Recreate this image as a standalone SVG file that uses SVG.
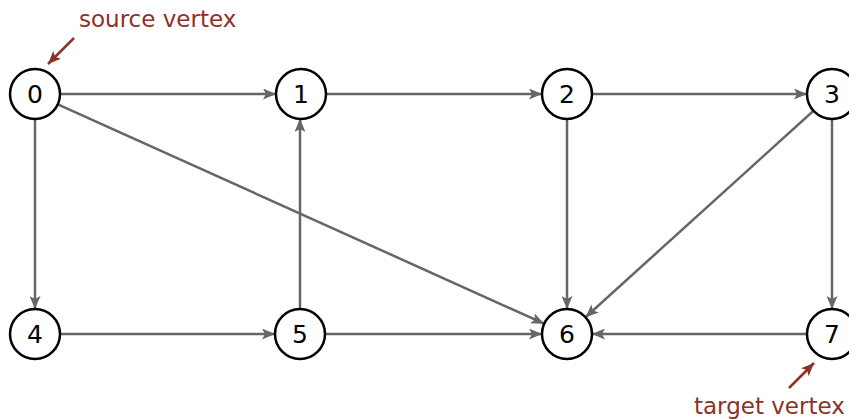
<svg xmlns="http://www.w3.org/2000/svg" width="849" height="419" viewBox="0 0 849 419">
<defs>
<marker id="ah" markerWidth="14" markerHeight="11" refX="13" refY="5.5" orient="auto" markerUnits="userSpaceOnUse"><path d="M0,0 L13,5.5 L0,11 L3,5.5 z" fill="#666"/></marker>
<marker id="rh" markerWidth="14" markerHeight="11" refX="13" refY="5.5" orient="auto" markerUnits="userSpaceOnUse"><path d="M0,0 L13,5.5 L0,11 L3,5.5 z" fill="#8b3128"/></marker>
<style>
.e{stroke:#666;stroke-width:2.5;fill:none;marker-end:url(#ah)}
.n circle{fill:#fff;stroke:#000;stroke-width:2.5}
.n text{font-family:"DejaVu Sans",sans-serif;font-size:25px;text-anchor:middle;fill:#000}
.lbl{font-family:"DejaVu Sans",sans-serif;font-size:23px;fill:#8b3128}
.ra{stroke:#8b3128;stroke-width:2.5;fill:none;marker-end:url(#rh)}
</style>
</defs>
<rect width="849" height="419" fill="#fff"/>
<g id="edges">
<line class="e" x1="60" y1="94" x2="276" y2="94"/>
<line class="e" x1="35" y1="119" x2="35" y2="309"/>
<line class="e" x1="57.8" y1="104.3" x2="544.2" y2="323.7"/>
<line class="e" x1="326" y1="94" x2="542" y2="94"/>
<line class="e" x1="592" y1="94" x2="807" y2="94"/>
<line class="e" x1="567" y1="119" x2="567" y2="309"/>
<line class="e" x1="813.5" y1="110.8" x2="585.5" y2="317.2"/>
<line class="e" x1="832" y1="119" x2="832" y2="309"/>
<line class="e" x1="60" y1="334" x2="275" y2="334"/>
<line class="e" x1="300" y1="309" x2="300" y2="119"/>
<line class="e" x1="326" y1="334" x2="542" y2="334"/>
<line class="e" x1="807" y1="334" x2="592" y2="334"/>
</g>
<g id="n0" class="n"><circle cx="35" cy="94" r="25"/><text x="35" y="103">0</text></g>
<g id="n1" class="n"><circle cx="301" cy="94" r="25"/><text x="301" y="103">1</text></g>
<g id="n2" class="n"><circle cx="567" cy="94" r="25"/><text x="567" y="103">2</text></g>
<g id="n3" class="n"><circle cx="832" cy="94" r="25"/><text x="832" y="103">3</text></g>
<g id="n4" class="n"><circle cx="35" cy="334" r="25"/><text x="35" y="343">4</text></g>
<g id="n5" class="n"><circle cx="300" cy="334" r="25"/><text x="300" y="343">5</text></g>
<g id="n6" class="n"><circle cx="567" cy="334" r="25"/><text x="567" y="343">6</text></g>
<g id="n7" class="n"><circle cx="832" cy="334" r="25"/><text x="832" y="343">7</text></g>
<g id="source-label">
<text class="lbl" x="79" y="27">source vertex</text>
<line class="ra" x1="74" y1="38" x2="48" y2="64"/>
</g>
<g id="target-label">
<text class="lbl" x="694" y="414">target vertex</text>
<line class="ra" x1="789" y1="388" x2="814" y2="363"/>
</g>
</svg>
